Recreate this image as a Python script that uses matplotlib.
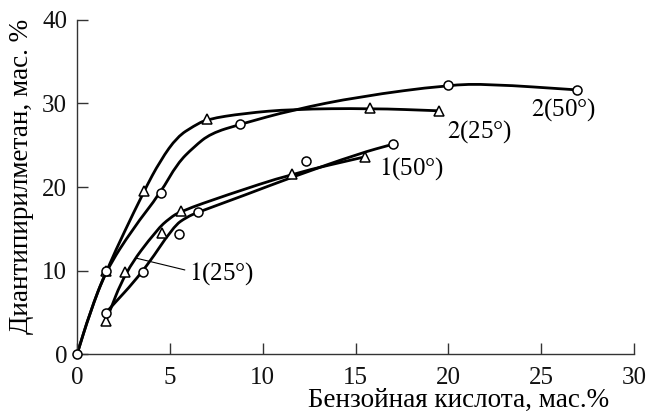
import matplotlib
matplotlib.use("Agg")
import matplotlib.pyplot as plt
from matplotlib.path import Path
from matplotlib.patches import PathPatch

plt.rcParams["font.family"] = ["Liberation Serif", "DejaVu Serif"]
plt.rcParams["mathtext.fontset"] = "stix"

# measured points (benzoic acid, wt.% -> diantipyrylmethane, wt.%)
c2_50_x = [0.0, 1.56, 4.5, 8.8, 20.0, 26.9]
c2_50_y = [0.0, 10.0, 19.3, 27.5, 32.2, 31.6]
t2_25_x = [1.56, 3.6, 7.0, 15.8, 19.5]
t2_25_y = [10.0, 19.5, 28.1, 29.4, 29.1]
c1_50_x = [1.56, 3.54, 5.51, 6.53, 12.35, 17.0]
c1_50_y = [5.0, 9.8, 14.4, 17.0, 23.1, 25.1]
t1_25_x = [1.56, 2.6, 4.58, 5.58, 11.6, 15.5]
t1_25_y = [4.0, 9.9, 14.5, 17.1, 21.6, 23.6]

# hand-drawn fit curves
fit2_50 = [(0, 0), (0.7, 5.0), (1.56, 10.0), (3.0, 15.0), (4.5, 19.3), (5.4, 22.8),
           (6.3, 24.8), (7.2, 26.4), (8.8, 27.5), (11.6, 29.2), (15.2, 30.8),
           (20.0, 32.2), (22.2, 32.3), (26.9, 31.6)]
fit2_25 = [(0, 0), (0.7, 5.0), (1.56, 10.0), (3.6, 19.5), (4.5, 23.2), (5.4, 26.0),
           (6.3, 27.3), (7.0, 28.1), (9.0, 28.8), (11.6, 29.3), (15.8, 29.4), (19.5, 29.1)]
fit1_50 = [(1.56, 5.0), (3.54, 9.8), (5.2, 15.3), (5.9, 16.4), (6.53, 17.0), (9.0, 19.0),
           (11.6, 21.2), (15.2, 24.0), (17.0, 25.1)]
fit1_25 = [(1.56, 4.0), (2.6, 9.9), (4.3, 14.9), (5.0, 16.3), (5.58, 17.1), (8.0, 19.0),
           (11.6, 21.6), (15.5, 23.6)]

labels = [r"$\mathit{2}$(50°)", r"$\mathit{2}$(25°)", r"$\mathit{1}$(50°)", r"$\mathit{1}$(25°)"]
label_pos = [(26.2, 29.2), (21.7, 26.6), (18.0, 22.2), (7.8, 9.7)]
leader = [(3.2, 5.8), (11.5, 10.1)]


def smooth_path(pts):
    """Quadratic B-spline through the midpoints of the traced polyline."""
    verts = [pts[0]]
    codes = [Path.MOVETO]
    mid = lambda a, b: ((a[0] + b[0]) / 2, (a[1] + b[1]) / 2)
    verts.append(mid(pts[0], pts[1]))
    codes.append(Path.LINETO)
    for i in range(1, len(pts) - 1):
        verts += [pts[i], mid(pts[i], pts[i + 1])]
        codes += [Path.CURVE3, Path.CURVE3]
    verts.append(pts[-1])
    codes.append(Path.LINETO)
    return Path(verts, codes)


fig = plt.figure(figsize=(6.49, 4.17), dpi=100)
ax = fig.add_axes([0.1186, 0.1499, 0.8584, 0.8033])

for fit in [fit2_50, fit2_25, fit1_50, fit1_25]:
    ax.add_patch(PathPatch(smooth_path(fit), facecolor="none", edgecolor="black", lw=2.0, zorder=2))

mk = dict(markerfacecolor="white", markeredgecolor="black", markeredgewidth=1.1,
          linestyle="none", clip_on=False, zorder=3)
ax.plot(t2_25_x, t2_25_y, marker="^", markersize=7.5, **mk)
ax.plot(t1_25_x, t1_25_y, marker="^", markersize=7.5, **mk)
ax.plot(c2_50_x, c2_50_y, marker="o", markersize=6.5, **mk)
ax.plot(c1_50_x, c1_50_y, marker="o", markersize=6.5, **mk)

for text, (x, y) in zip(labels, label_pos):
    ax.text(x, y, text, fontsize=18, ha="center", va="center")
ax.plot(leader[0], leader[1], color="black", lw=0.8)

ax.set_xlim(0, 30)
ax.set_ylim(0, 40)
ax.set_xticks(range(0, 31, 5))
ax.set_yticks(range(0, 41, 10))
ax.tick_params(direction="in", length=8, width=1.0, labelsize=18, colors="#333333",
               labelcolor="#111111")
ax.tick_params(axis="x", pad=9)
ax.tick_params(axis="y", pad=7)
for side in ["top", "right"]:
    ax.spines[side].set_visible(False)
for side in ["left", "bottom"]:
    ax.spines[side].set_color("#333333")
    ax.spines[side].set_linewidth(1.0)

fig.text(609 / 649, 1 - 407 / 417, "Бензойная кислота, мас.%", fontsize=19.5,
         ha="right", va="baseline")
fig.text(22 / 649, 1 - 176 / 417, "Диантипирилметан, мас. %", fontsize=19.5,
         rotation=90, ha="center", va="center")

fig.savefig("out.png", dpi=100)
